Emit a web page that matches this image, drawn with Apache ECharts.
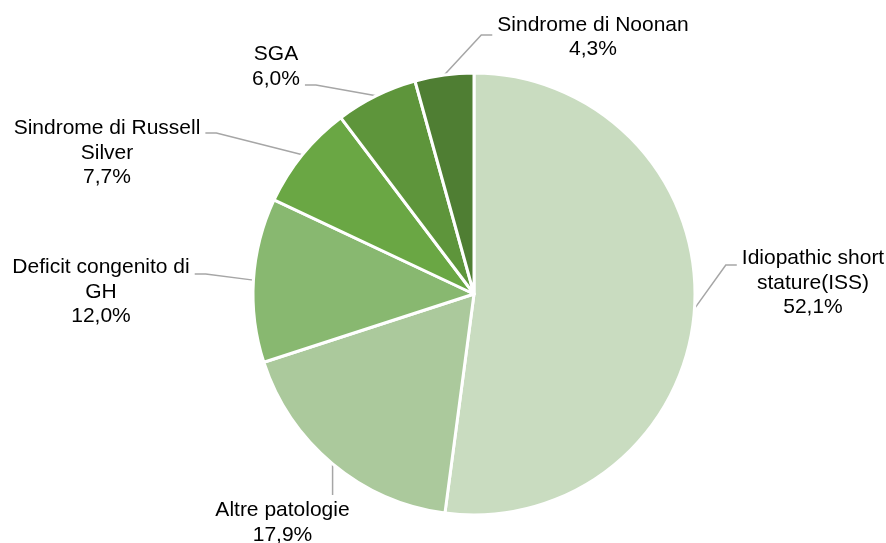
<!DOCTYPE html>
<html>
<head>
<meta charset="utf-8">
<script src="https://cdn.jsdelivr.net/npm/echarts@6/dist/echarts.min.js"></script>
<style>
html,body{margin:0;padding:0;background:#fff;}
#chart{width:886px;height:543px;}
</style>
</head>
<body>
<div id="chart"></div>
<script>
// ---- data ----
const categories = [
  'Idiopathic short\nstature(ISS)',
  'Altre patologie',
  'Deficit congenito di\nGH',
  'Sindrome di Russell\nSilver',
  'SGA',
  'Sindrome di Noonan'
];
const values = [52.1, 17.9, 12.0, 7.7, 6.0, 4.3];
const colors = ['#c9dcc0', '#abc99c', '#88b870', '#6aa744', '#5e953b', '#4f7e33'];

// ---- label layout (offsets from pie centre, px) ----
const pieCenter = [474, 294];
const pieRadius = 221;
// dx,dy: label block centre; ay: leader attach y offset from label centre; side: +1 right, -1 left, 0 below
const labelCfg = [
  { dx: 339, dy: -11, ay: -18, side: 1 },
  { dx: -191.5, dy: 228.5, ay: 0, side: 0 },
  { dx: -373, dy: -2, ay: -18, side: -1 },
  { dx: -367, dy: -141, ay: -20, side: -1 },
  { dx: -198, dy: -227.5, ay: 18.5, side: -1 },
  { dx: 119, dy: -257, ay: -2, side: 1 }
];

const chart = echarts.init(document.getElementById('chart'), null, { renderer: 'canvas' });

const data = values.map((v, i) => ({
  name: categories[i],
  value: v,
  itemStyle: { color: colors[i] }
}));

chart.setOption({
  animation: false,
  backgroundColor: '#ffffff',
  series: [{
    type: 'pie',
    center: pieCenter,
    radius: pieRadius,
    startAngle: 90,
    clockwise: true,
    avoidLabelOverlap: false,
    itemStyle: { borderColor: '#ffffff', borderWidth: 3 },
    label: {
      show: true,
      position: 'outside',
      color: '#000000',
      fontFamily: 'Liberation Sans, Arial, sans-serif',
      fontSize: 21,
      lineHeight: 24.5,
      formatter: p => p.name + '\n' + p.value.toFixed(1).replace('.', ',') + '%'
    },
    labelLine: {
      show: true,
      length: 20,
      length2: 10,
      lineStyle: { color: '#a6a6a6', width: 1.5 }
    },
    labelLayout: function (params) {
      const i = params.dataIndex;
      const L = labelCfg[i];
      const w = params.labelRect.width;
      const h = params.labelRect.height;
      const lx = pieCenter[0] + L.dx;
      const ly = pieCenter[1] + L.dy;
      const p0 = params.labelLinePoints[0];
      let pts;
      if (L.side === 0) {
        const endY = ly - h / 2 - 3;
        pts = [p0, [p0[0], (p0[1] + endY) / 2], [p0[0], endY]];
      } else {
        const ay = ly + L.ay;
        const endX = L.side > 0 ? lx - w / 2 - 5 : lx + w / 2 + 5;
        const elbowX = endX - L.side * 11;
        pts = [p0, [elbowX, ay], [endX, ay]];
      }
      return {
        x: lx,
        y: ly,
        align: 'center',
        verticalAlign: 'middle',
        labelLinePoints: pts
      };
    },
    data: data
  }]
});
</script>
</body>
</html>
